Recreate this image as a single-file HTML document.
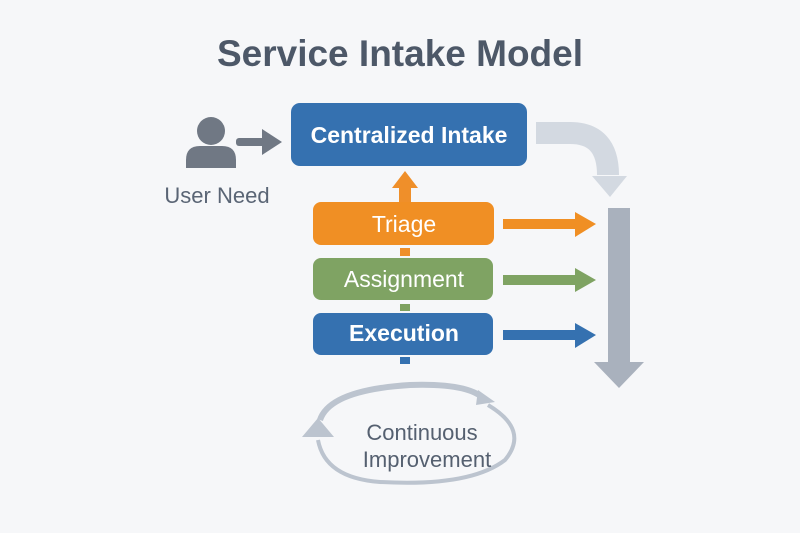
<!DOCTYPE html>
<html><head><meta charset="utf-8"><style>
body{margin:0;background:#f6f7f9;}
svg{display:block}
text{font-family:"Liberation Sans",sans-serif}
</style></head><body>
<svg width="800" height="533" viewBox="0 0 800 533">
<rect width="800" height="533" fill="#f6f7f9"/>
<text x="400" y="66" text-anchor="middle" font-size="37" font-weight="bold" fill="#4d5868">Service Intake Model</text>
<!-- user -->
<circle cx="211" cy="131" r="14" fill="#707884"/>
<path d="M186 168 L186 160 Q186 146 200 146 L222 146 Q236 146 236 160 L236 168 Z" fill="#707884"/>
<rect x="236" y="138" width="32" height="8" rx="3" fill="#707884"/>
<path d="M262 129 L282 142 L262 155 Z" fill="#707884"/>
<text x="217" y="203" text-anchor="middle" font-size="22" fill="#5a6575">User Need</text>
<!-- central -->
<rect x="291" y="103" width="236" height="63" rx="9" fill="#3571b0"/>
<text x="409" y="143" text-anchor="middle" font-size="23" font-weight="bold" fill="#fff">Centralized Intake</text>
<!-- curved gray arrow -->
<path d="M536 133 L570 133 Q608 133 608 175" fill="none" stroke="#d3d9e1" stroke-width="22"/>
<path d="M592 176 L627 176 L610 197 Z" fill="#d3d9e1"/>
<!-- vertical gray arrow -->
<rect x="608" y="208" width="22" height="160" fill="#a9b1bd"/>
<path d="M594 362 L644 362 L619 388 Z" fill="#a9b1bd"/>
<!-- up orange arrow -->
<rect x="399" y="186" width="12" height="17" fill="#ef8f2a"/>
<path d="M392 188 L418 188 L405 171 Z" fill="#ef8f2a"/>
<!-- dashes -->
<rect x="400" y="248" width="10" height="8" fill="#ef8f2a"/>
<rect x="400" y="304" width="10" height="7" fill="#7ea160"/>
<rect x="400" y="357" width="10" height="7" fill="#3571b0"/>
<!-- boxes -->
<rect x="313" y="202" width="181" height="43" rx="8" fill="#f08f24"/>
<text x="404" y="232" text-anchor="middle" font-size="23" fill="#fff">Triage</text>
<rect x="313" y="258" width="180" height="42" rx="8" fill="#7fa363"/>
<text x="404" y="287" text-anchor="middle" font-size="23" fill="#fff">Assignment</text>
<rect x="313" y="313" width="180" height="42" rx="8" fill="#3571b0"/>
<text x="404" y="341" text-anchor="middle" font-size="23" font-weight="bold" fill="#fff">Execution</text>
<!-- right arrows -->
<rect x="503" y="219" width="75" height="10" fill="#f08f24"/><path d="M575 212 L596 224 L575 237 Z" fill="#f08f24"/>
<rect x="503" y="275" width="75" height="10" fill="#7fa363"/><path d="M575 268 L596 280 L575 292 Z" fill="#7fa363"/>
<rect x="503" y="330" width="75" height="10" fill="#3571b0"/><path d="M575 323 L596 335 L575 348 Z" fill="#3571b0"/>
<!-- loop -->
<path d="M320 420 Q330 390 410 385 Q470 383 485 400" fill="none" stroke="#bcc4cf" stroke-width="6"/>
<path d="M478 390 L495 402 L476 405 Z" fill="#bcc4cf"/>
<path d="M488 405 Q530 430 505 460 Q470 487 380 482 Q325 478 318 440" fill="none" stroke="#bcc4cf" stroke-width="4"/>
<path d="M302 437 L318 418 L334 437 Z" fill="#bcc4cf"/>
<text x="422" y="440" text-anchor="middle" font-size="22" fill="#556070">Continuous</text>
<text x="427" y="467" text-anchor="middle" font-size="22" fill="#556070">Improvement</text>
</svg>
</body></html>
